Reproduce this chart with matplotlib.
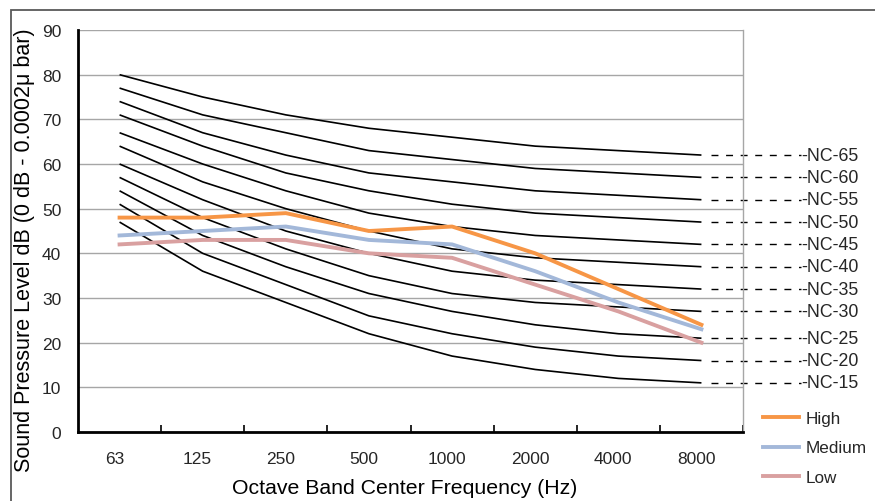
import matplotlib
matplotlib.use("Agg")
import matplotlib.pyplot as plt
import matplotlib.transforms as mtransforms
from matplotlib.patches import Rectangle

plt.rcParams['font.family'] = ['Liberation Sans', 'DejaVu Sans']

freqs = ["63", "125", "250", "500", "1000", "2000", "4000", "8000"]

nc_labels = ["NC-15", "NC-20", "NC-25", "NC-30", "NC-35", "NC-40",
             "NC-45", "NC-50", "NC-55", "NC-60", "NC-65"]
nc15 = [47, 36, 29, 22, 17, 14, 12, 11]
nc20 = [51, 40, 33, 26, 22, 19, 17, 16]
nc25 = [54, 44, 37, 31, 27, 24, 22, 21]
nc30 = [57, 48, 41, 35, 31, 29, 28, 27]
nc35 = [60, 52, 45, 40, 36, 34, 33, 32]
nc40 = [64, 56, 50, 45, 41, 39, 38, 37]
nc45 = [67, 60, 54, 49, 46, 44, 43, 42]
nc50 = [71, 64, 58, 54, 51, 49, 48, 47]
nc55 = [74, 67, 62, 58, 56, 54, 53, 52]
nc60 = [77, 71, 67, 63, 61, 59, 58, 57]
nc65 = [80, 75, 71, 68, 66, 64, 63, 62]
nc_curves = [nc15, nc20, nc25, nc30, nc35, nc40, nc45, nc50, nc55, nc60, nc65]

high = [48, 48, 49, 45, 46, 40, 32, 24]
medium = [44, 45, 46, 43, 42, 36, 29, 23]
low = [42, 43, 43, 40, 39, 33, 27, 20]

W, H = 875, 502
fig = plt.figure(figsize=(W / 100, H / 100), dpi=100)
ax = fig.add_axes([78 / W, 1 - 433 / H, (743 - 78) / W, (433 - 31) / H])

# outer chart border
fig.patches.append(Rectangle((10.5 / W, -0.1), 1.2, 1 - 10.5 / H + 0.1,
                             transform=fig.transFigure, fill=False,
                             edgecolor='#595959', linewidth=1.3))

x = list(range(len(freqs)))
ax.set_xlim(-0.5, 7.5)
ax.set_ylim(0, 90)
ax.set_yticks(range(0, 91, 10))
ax.yaxis.grid(True, color='#a6a6a6', linewidth=1.0)
ax.set_axisbelow(True)

for curve in nc_curves:
    ax.plot(x, curve, color='black', linewidth=1.2, solid_capstyle='butt')

ax.plot(x, high, color='#F79646', linewidth=2.8, label='High')
ax.plot(x, medium, color='#A3B8D9', linewidth=2.8, label='Medium')
ax.plot(x, low, color='#D9A0A0', linewidth=2.8, label='Low')

# NC labels with dashed leaders
for lab, curve in zip(nc_labels, nc_curves):
    yv = curve[-1]
    ax.plot([7.11, 8.2], [yv, yv], color='black', linewidth=1.0,
            linestyle=(0, (5.0, 5.5)), clip_on=False)
    ax.text(8.2, yv, "-" + lab, fontsize=12.8, va='center', ha='left',
            color='#262626', clip_on=False)

# spines
ax.spines['top'].set_visible(False)
ax.spines['right'].set_color('#a6a6a6')
ax.spines['right'].set_linewidth(1.0)
ax.spines['left'].set_linewidth(2.0)
ax.spines['bottom'].set_linewidth(2.0)
ax.spines['left'].set_color('black')
ax.spines['bottom'].set_color('black')

# x ticks: category separators, labels centered on categories
ax.set_xticks([i + 0.5 for i in range(len(freqs))])
ax.set_xticklabels([])
ax.set_xticks(x, minor=True)
ax.set_xticklabels(freqs, minor=True)
ax.tick_params(axis='x', which='major', direction='in', length=5, width=1.2,
               color='black')
ax.tick_params(axis='x', which='minor', length=0, pad=14, labelsize=12.5,
               labelcolor='#262626')
offset = mtransforms.ScaledTranslation(-5 / 100, 0, fig.dpi_scale_trans)
for lbl in ax.xaxis.get_minorticklabels():
    lbl.set_transform(lbl.get_transform() + offset)
ax.tick_params(axis='y', length=0, pad=12, labelsize=12.5, labelcolor='#262626')

fig.text(25 / W, 1 - 250 / H, "Sound Pressure Level dB (0 dB - 0.0002\u03bc bar)",
         rotation=90, ha='center', va='center', fontsize=15.5)
fig.text(405 / W, 1 - 489 / H, "Octave Band Center Frequency (Hz)",
         ha='center', va='center', fontsize=15.3)

handles, labels = ax.get_legend_handles_labels()
fig.legend(handles, labels, loc='center left',
           bbox_to_anchor=(763 / W, 1 - 449 / H), frameon=False,
           fontsize=12.3, handlelength=2.1, handletextpad=0.4,
           labelspacing=0.85, borderaxespad=0, borderpad=0,
           labelcolor='#262626')

fig.savefig("out.png", dpi=100)
